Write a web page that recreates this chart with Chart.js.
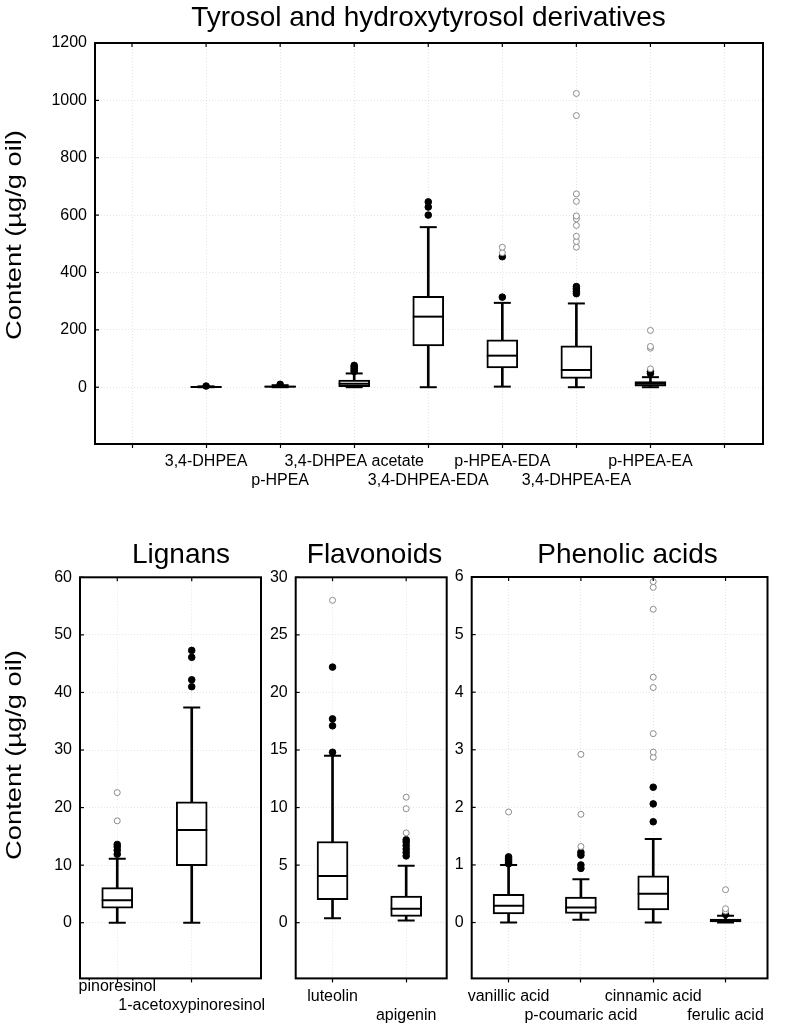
<!DOCTYPE html>
<html><head><meta charset="utf-8">
<script src="https://cdn.jsdelivr.net/npm/chart.js@4.4.1/dist/chart.umd.min.js"></script>
<style>
html,body{margin:0;padding:0;background:#fff;}
#wrap{position:relative;width:785px;height:1029px;overflow:hidden;background:#fff;}
canvas{position:absolute;left:0;top:0;}
.t{position:absolute;font-family:"Liberation Sans",Arial,sans-serif;font-size:28px;line-height:28px;white-space:nowrap;color:#000;transform:translateX(-50%);}
.yt{position:absolute;font-family:"Liberation Sans",Arial,sans-serif;font-size:22px;line-height:22px;white-space:nowrap;color:#000;transform:translate(-50%,-50%) rotate(-90deg) scaleX(1.24);}
</style></head>
<body><div id="wrap">
<canvas id="c1" width="785" height="1029"></canvas>
<canvas id="c2" width="785" height="1029"></canvas>
<canvas id="c3" width="785" height="1029"></canvas>
<canvas id="c4" width="785" height="1029"></canvas>
<div class="t" style="left:428.5px;top:3px;">Tyrosol and hydroxytyrosol derivatives</div>
<div class="t" style="left:181px;top:540px;">Lignans</div>
<div class="t" style="left:374.5px;top:540px;">Flavonoids</div>
<div class="t" style="left:627.5px;top:540px;">Phenolic acids</div>
<div class="yt" style="left:14px;top:235px;">Content (µg/g oil)</div>
<div class="yt" style="left:14px;top:755px;">Content (µg/g oil)</div>
</div>
<script>
// ---------- Data ----------
// Top: tyrosol and hydroxytyrosol derivatives
const topCats = ['3,4-DHPEA','p-HPEA','3,4-DHPEA acetate','3,4-DHPEA-EDA','p-HPEA-EDA','3,4-DHPEA-EA','p-HPEA-EA'];
const topMin = [0, 0, 0, 0, 2, 0, 0];
const topQ1  = [0.2, 0.5, 2, 144, 67, 31, 4];
const topMed = [0.7, 2, 12, 246, 110, 60, 12];
const topQ3  = [1.5, 4, 25, 317, 165, 144, 20];
const topMax = [3, 7, 48, 558, 294, 292, 35];
const topOut = [[4], [10], [55, 60, 66, 71, 76], [600, 628, 646], [314, 455], [326, 334, 343, 351], [48, 54]];
const topExt = [[], [], [], [], [469, 488], [488, 508, 526, 564, 587, 597, 648, 674, 947, 1024], [64, 136, 142, 198]];
const topYTicks = [0, 200, 400, 600, 800, 1000, 1200];
const topXTicks = [0, 1, 2, 3, 4, 5, 6, 7, 8];

// Lignans
const ligCats = ['pinoresinol', '1-acetoxypinoresinol'];
const ligMin = [0, 0];
const ligQ1  = [2.55, 9.9];
const ligMed = [3.9, 16.1];
const ligQ3  = [6.1, 21.0];
const ligMax = [11.1, 37.4];
const ligOut = [[11.9, 12.6, 13.2, 13.6], [41.0, 42.2, 46.1, 47.3]];
const ligExt = [[17.7, 22.6], []];
const ligYTicks = [0, 10, 20, 30, 40, 50, 60];

// Flavonoids
const flaCats = ['luteolin', 'apigenin'];
const flaMin = [0.38, 0.2];
const flaQ1  = [2.0, 0.55];
const flaMed = [4.05, 1.2];
const flaQ3  = [7.05, 2.3];
const flaMax = [14.5, 4.95];
const flaOut = [[14.8, 17.1, 17.7, 22.2], [5.8, 6.1, 6.4, 6.7, 7.0, 7.2]];
const flaExt = [[28.0], [7.8, 9.9, 10.9]];
const flaYTicks = [0, 5, 10, 15, 20, 25, 30];

// Phenolic acids
const phCats = ['vanillic acid', 'p-coumaric acid', 'cinnamic acid', 'ferulic acid'];
const phMin = [0, 0.05, 0, 0];
const phQ1  = [0.15, 0.16, 0.22, 0.01];
const phMed = [0.29, 0.26, 0.5, 0.03];
const phQ3  = [0.49, 0.44, 0.81, 0.06];
const phMax = [1.0, 0.75, 1.45, 0.12];
const phOut = [[1.02, 1.05, 1.08, 1.11, 1.14], [0.94, 1.0, 1.17, 1.22], [1.75, 2.06, 2.35], [0.14]];
const phExt = [[1.92], [1.32, 1.88, 2.92], [2.87, 2.96, 3.28, 4.08, 4.26, 5.44, 5.82, 5.92], [0.2, 0.24, 0.57]];
const phYTicks = [0, 1, 2, 3, 4, 5, 6];

// ---------- Rendering ----------
Chart.defaults.font.family = "'Liberation Sans', Arial, sans-serif";
Chart.defaults.color = '#000';

const framePlugin = {
  id: 'frame',
  afterDatasetsDraw(chart) {
    const {ctx, chartArea: a, scales: {x, y}} = chart;
    ctx.save();
    ctx.strokeStyle = '#000';
    ctx.lineWidth = 1.2;
    x.ticks.forEach(t => {
      const px = x.getPixelForValue(t.value);
      ctx.beginPath(); ctx.moveTo(px, a.top); ctx.lineTo(px, a.top + 4); ctx.stroke();
    });
    y.ticks.forEach(t => {
      const py = y.getPixelForValue(t.value);
      ctx.beginPath(); ctx.moveTo(a.left, py); ctx.lineTo(a.left + 4, py); ctx.stroke();
    });
    ctx.lineWidth = 2;
    ctx.strokeRect(a.left, a.top, a.right - a.left, a.bottom - a.top);
    ctx.restore();
  }
};

function boxDatasets(mins, q1s, meds, q3s, maxs, outs, exts, boxW, capW) {
  const xs = mins.map((_, i) => i + 1);
  return [
    {type: 'bar', data: xs.map((x, i) => ({x, y: [mins[i], maxs[i]]})), barThickness: 2,
     backgroundColor: '#000', borderWidth: 0, grouped: false, order: 6},
    {type: 'bar', data: xs.map((x, i) => ({x, y: [q1s[i], q3s[i]]})), barThickness: boxW,
     backgroundColor: '#fff', borderColor: '#000', borderWidth: 2, borderSkipped: false, grouped: false, order: 5},
    {type: 'scatter', data: xs.map((x, i) => ({x, y: meds[i]})), pointStyle: 'line',
     pointRadius: boxW / 2, borderColor: '#000', borderWidth: 2, order: 4},
    {type: 'scatter', data: xs.flatMap((x, i) => [{x, y: mins[i]}, {x, y: maxs[i]}]), pointStyle: 'line',
     pointRadius: capW / 2, borderColor: '#000', borderWidth: 2, order: 4},
    {type: 'scatter', data: xs.flatMap((x, i) => outs[i].map(y => ({x, y}))), pointStyle: 'circle',
     pointRadius: 3.3, backgroundColor: '#000', borderColor: '#000', borderWidth: 1, order: 2},
    {type: 'scatter', data: xs.flatMap((x, i) => exts[i].map(y => ({x, y}))), pointStyle: 'circle',
     pointRadius: 3, backgroundColor: '#fff', borderColor: '#8c8c8c', borderWidth: 1, order: 1}
  ];
}

function makeChart(id, c) {
  return new Chart(document.getElementById(id), {
    type: 'bar',
    data: {datasets: boxDatasets(c.mins, c.q1s, c.meds, c.q3s, c.maxs, c.outs, c.exts, 31, 17)},
    plugins: [framePlugin],
    options: {
      responsive: false, animation: false, events: [],
      layout: {padding: c.pad},
      plugins: {legend: {display: false}, tooltip: {enabled: false}},
      scales: {
        x: {
          type: 'linear', min: c.xMin, max: c.xMax, offset: false,
          afterBuildTicks: s => { s.ticks = c.xTicks.map(v => ({value: v})); },
          afterFit: s => { s.height = c.xH; },
          grid: {offset: false, color: 'rgba(0,0,0,0.10)', tickColor: '#000', tickLength: 4, tickWidth: 1.2},
          border: {display: false, dash: [1, 2]},
          ticks: {
            autoSkip: false, maxRotation: 0, minRotation: 0, padding: c.xPad,
            font: {size: 16, lineHeight: 1.2}, color: '#000',
            callback: v => {
              const i = Math.round(v) - 1;
              if (i < 0 || i >= c.cats.length) return '';
              return i % 2 === 0 ? [c.cats[i], ''] : ['', c.cats[i]];
            }
          }
        },
        y: {
          type: 'linear', min: c.yMin, max: c.yMax,
          afterBuildTicks: s => { s.ticks = c.yTicks.map(v => ({value: v})); },
          afterFit: s => { s.width = c.yW; },
          grid: {color: 'rgba(0,0,0,0.10)', drawTicks: false},
          border: {display: false, dash: [1, 2]},
          ticks: {padding: 8, font: {size: 16}, color: '#000', callback: v => String(v)}
        }
      }
    }
  });
}

makeChart('c1', {
  cats: topCats, mins: topMin, q1s: topQ1, meds: topMed, q3s: topQ3, maxs: topMax, outs: topOut, exts: topExt,
  xMin: -0.5, xMax: 8.52, xTicks: topXTicks, yMin: -198, yMax: 1200, yTicks: topYTicks,
  pad: {left: 0, top: 43, right: 22, bottom: 529}, yW: 95, xH: 56, xPad: 4
});
makeChart('c2', {
  cats: ligCats, mins: ligMin, q1s: ligQ1, meds: ligMed, q3s: ligQ3, maxs: ligMax, outs: ligOut, exts: ligExt,
  xMin: 0.5, xMax: 2.93, xTicks: [1, 2], yMin: -9.67, yMax: 60, yTicks: ligYTicks,
  pad: {left: 0, top: 577.3, right: 524, bottom: 0.6}, yW: 80, xH: 50, xPad: -5.3
});
makeChart('c3', {
  cats: flaCats, mins: flaMin, q1s: flaQ1, meds: flaMed, q3s: flaQ3, maxs: flaMax, outs: flaOut, exts: flaExt,
  xMin: 0.5, xMax: 2.55, xTicks: [1, 2], yMin: -4.84, yMax: 30, yTicks: flaYTicks,
  pad: {left: 245.7, top: 577.3, right: 338.3, bottom: 0.6}, yW: 50, xH: 50, xPad: 4.7
});
makeChart('c4', {
  cats: phCats, mins: phMin, q1s: phQ1, meds: phMed, q3s: phQ3, maxs: phMax, outs: phOut, exts: phExt,
  xMin: 0.49, xMax: 4.58, xTicks: [1, 2, 3, 4], yMin: -0.97, yMax: 6, yTicks: phYTicks,
  pad: {left: 421.7, top: 577, right: 6, bottom: 0.6}, yW: 50, xH: 50, xPad: 4.7
});
</script>
</body></html>
